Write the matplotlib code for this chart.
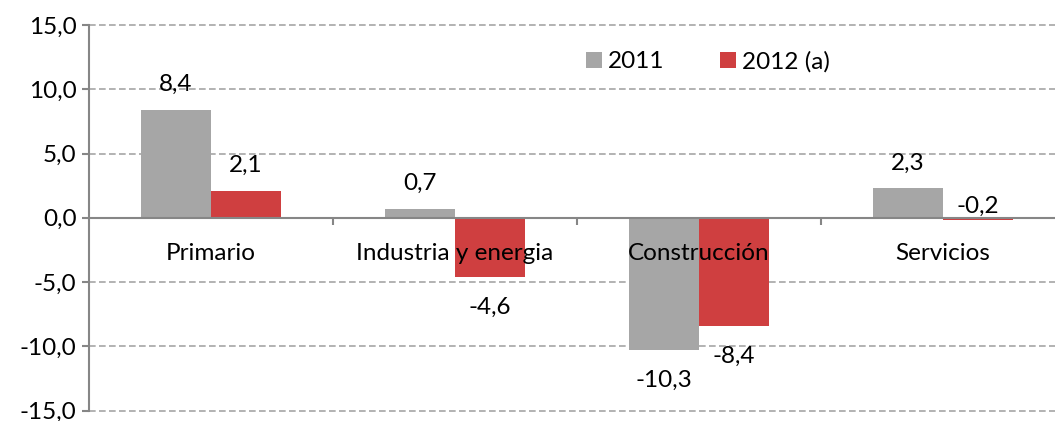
import numpy as np
import matplotlib.pyplot as plt

categories = ["Primario", "Industria y energia", "Construcción", "Servicios"]
v2011 = [8.4, 0.7, -10.3, 2.3]
v2012 = [2.1, -4.6, -8.4, -0.2]
series_names = ["2011", "2012 (a)"]
yticks = [-15, -10, -5, 0, 5, 10, 15]

plt.rcParams['font.family'] = ['Lato', 'DejaVu Sans']

fig = plt.figure(figsize=(10.55, 4.21), dpi=100)
ax = fig.add_axes([89 / 1055, 10.5 / 421, 976 / 1055, 385.5 / 421])

x = np.arange(len(categories))
w = 0.287
gray = '#a6a6a6'
red = '#cf3f40'
b1 = ax.bar(x - w / 2, v2011, w, color=gray, label=series_names[0], zorder=3)
b2 = ax.bar(x + w / 2, v2012, w, color=red, label=series_names[1], zorder=3)

fs = 17.5
for bars, vals in ((b1, v2011), (b2, v2012)):
    for rect, v in zip(bars, vals):
        # tiny negative bars get their label above the axis, like the source
        if v >= 0:
            off = 18
        elif v > -1:
            off = 10
        else:
            off = -22
        ax.annotate(f"{v:.1f}".replace('.', ','),
                    (rect.get_x() + rect.get_width() / 2, v),
                    xytext=(0, off), textcoords='offset points',
                    ha='center', va='center', fontsize=fs, zorder=5)

for i, c in enumerate(categories):
    ax.text(i, -2.75, c, ha='center', va='center', fontsize=fs, zorder=4)

ax.set_xlim(-0.5, 3.5)
ax.set_ylim(-15, 15)
ax.set_yticks(yticks)
ax.set_yticklabels([f"{t:.1f}".replace('.', ',') for t in yticks], fontsize=fs)
ax.set_xticks([0.5, 1.5, 2.5])
ax.set_xticklabels([])

for y in yticks:
    if y != 0:
        ax.axhline(y, color='#a6a6a6', lw=1.2, ls=(0, (4, 2)), zorder=1, clip_on=False)

for s in ('top', 'right'):
    ax.spines[s].set_visible(False)
ax.spines['bottom'].set_position(('data', 0))
ax.spines['bottom'].set_color('#868686')
ax.spines['bottom'].set_linewidth(1.5)
ax.spines['bottom'].set_zorder(4)
ax.spines['left'].set_color('#868686')
ax.spines['left'].set_linewidth(1.5)
ax.spines['left'].set_zorder(4)
ax.tick_params(axis='y', direction='out', length=5, color='#868686', width=1.5, pad=4)
ax.tick_params(axis='x', direction='out', length=5, color='#868686', width=1.5)

ax.legend(loc='upper left', bbox_to_anchor=(0.487, 0.99), ncol=2, frameon=False,
          fontsize=fs, handlelength=0.65, handleheight=0.65, handletextpad=0.25,
          columnspacing=2.3)

fig.savefig('out.png', dpi=100)
